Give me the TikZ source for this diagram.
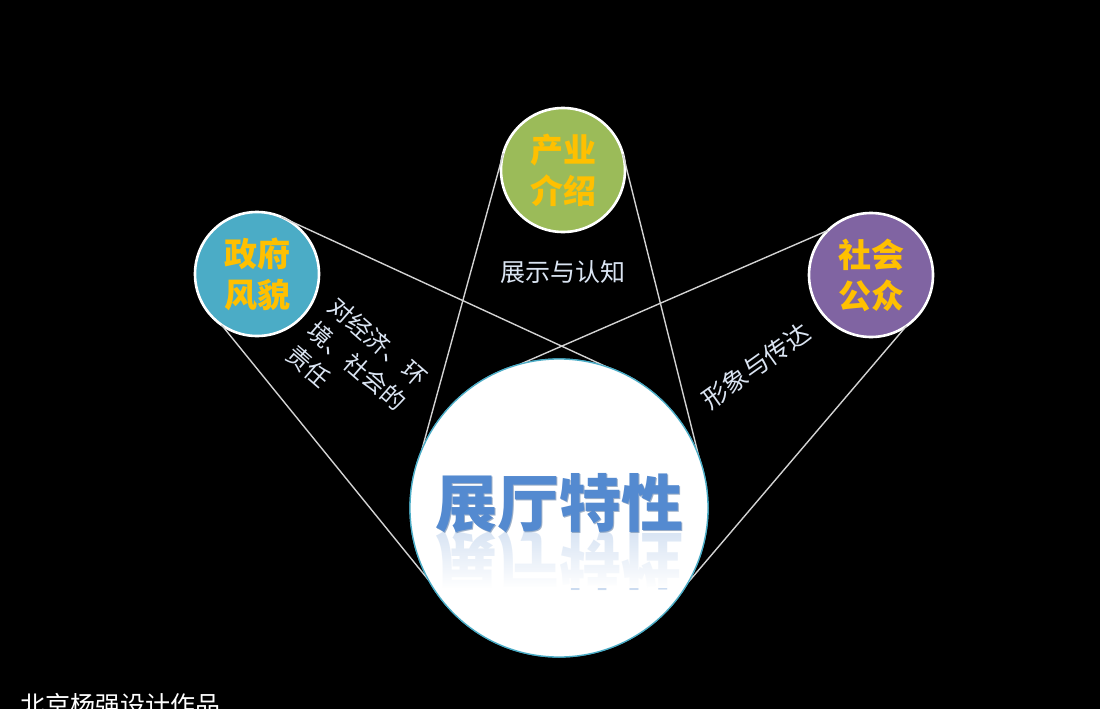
\documentclass[tikz,border=0pt]{standalone}
\usepackage{fontspec}
\newfontfamily\cjk{Noto Sans CJK SC}
\usetikzlibrary{fadings}
\definecolor{linegray}{RGB}{210,210,210}
\definecolor{labelyellow}{RGB}{255,192,0}
\definecolor{govblue}{RGB}{75,172,198}
\definecolor{indgreen}{RGB}{155,187,89}
\definecolor{socpurple}{RGB}{128,100,162}
\definecolor{captext}{RGB}{218,228,242}
\definecolor{titleblue}{RGB}{84,138,208}
\definecolor{rimteal}{RGB}{75,172,198}
\tikzset{
  topic/.style={circle, draw=white, line width=2.6pt, minimum size=124pt, inner sep=0pt, outer sep=0pt,
    text=labelyellow, font=\cjk\bfseries\fontsize{33}{41}\selectfont, align=center},
  hub/.style={circle, draw=rimteal, line width=1.3pt, fill=white, minimum size=298pt, inner sep=0pt, outer sep=0pt},
  link/.style={draw=linegray, line width=1.4pt},
  caption/.style={text=captext, font=\cjk\fontsize{24}{32}\selectfont, align=left, inner sep=0pt},
  titletext/.style={font=\cjk\bfseries\fontsize{62}{62}\selectfont, inner sep=0pt},
}
\begin{document}
\begin{tikzpicture}[x=1pt,y=-1pt]
\fill[black] (0,0) rectangle (1100,709);
\useasboundingbox (0,0) rectangle (1100,709);
% nodes
\node[hub] (hub) at (559,508) {};
\node[topic, fill=govblue] (gov) at (257,274) {政府\\风貌};
\node[topic, fill=indgreen] (ind) at (563,170) {产业\\介绍};
\node[topic, fill=socpurple] (soc) at (871,275) {社会\\公众};
% connectors
\draw[link] (gov.67) -- (hub.59.6);
\draw[link] (gov.235.6) -- (hub.209.8);
\draw[link] (ind.164.5) -- (hub.157.2);
\draw[link] (ind.15.7) -- (hub.8.5);
\draw[link] (soc.134) -- (hub.105);
\draw[link] (soc.-55.3) -- (hub.-30.2);
\node[hub] (hubtop) at (559,508) {};
% title with reflection
\begin{scope}
  \clip (559,508) circle (147);
  \node[titletext, text=titleblue, text opacity=0.3, yscale=-1] (titlerefl) at (559,561) {展厅特性};
  \fill[white, path fading=north] (405,512) rectangle (715,588);
\end{scope}
\node[titletext, text=titleblue!70!black, text opacity=0.5] (titleshadow) at (560.2,504.2) {展厅特性};
\node[titletext, text=titleblue] (title) at (559,503) {展厅特性};
% captions
\node[caption, rotate=-41] (capgov) at (357,366) {对经济、环\\境、社会的\\责任};
\node[caption, font=\cjk\fontsize{25}{30}\selectfont] (capind) at (563,272) {展示与认知};
\node[caption, rotate=35.5, font=\cjk\fontsize{25}{30}\selectfont] (capsoc) at (756,366) {形象与传达};
\node[text=white, font=\cjk\fontsize{25}{30}\selectfont, anchor=base west, inner sep=0pt] (credit) at (20,714) {北京杨强设计作品};
\end{tikzpicture}
\end{document}
